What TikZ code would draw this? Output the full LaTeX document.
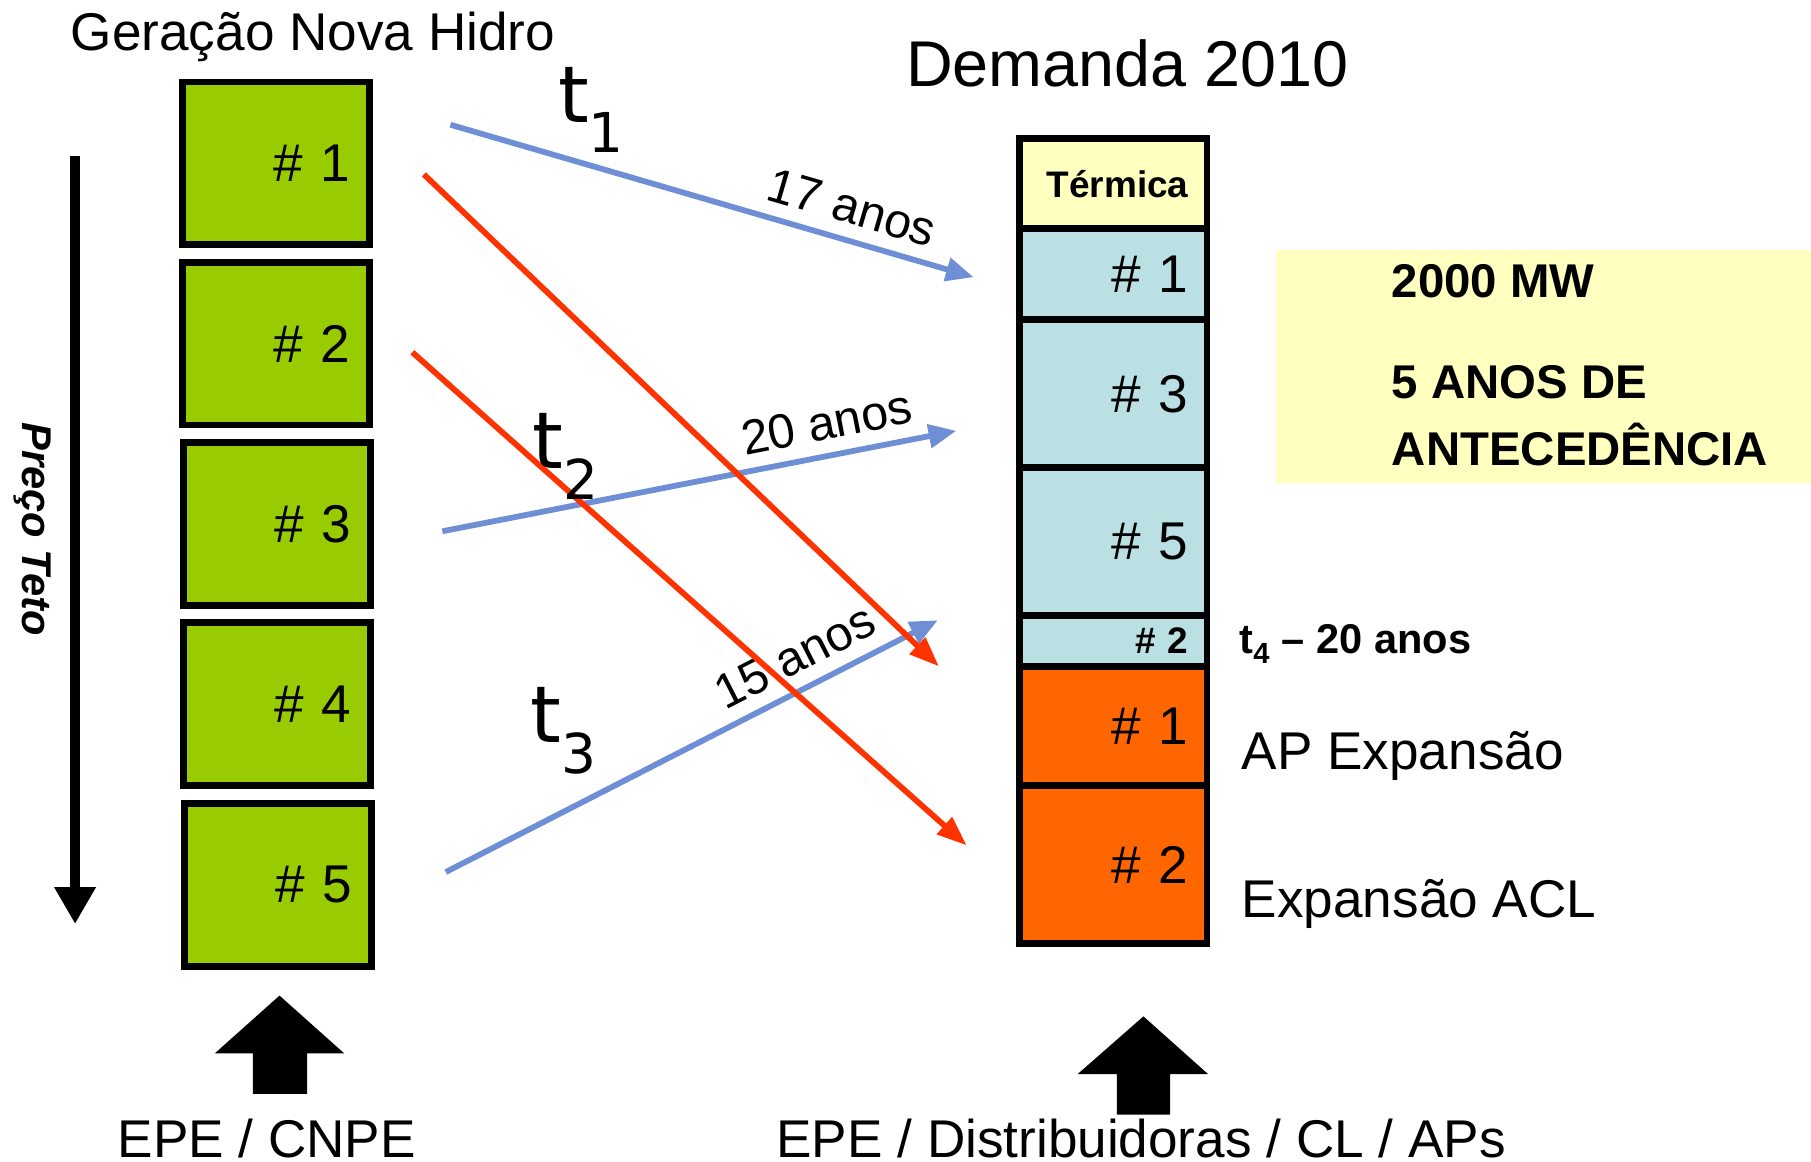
\documentclass[tikz,border=0pt]{standalone}
\usepackage{fontspec}
\setmainfont{Liberation Sans}
\newfontfamily\tfam{DejaVu Sans}
\usetikzlibrary{arrows.meta, positioning}

\definecolor{verdehidro}{HTML}{99CC00}
\definecolor{amarelo}{HTML}{FFFFC0}
\definecolor{azulclaro}{HTML}{BBE0E3}
\definecolor{laranja}{HTML}{FF6600}
\definecolor{azulseta}{HTML}{6E8FD5}
\definecolor{vermseta}{HTML}{FF3300}

\newcommand{\tam}[1]{\fontsize{#1}{#1}\selectfont}

\begin{document}
\begin{tikzpicture}[x=1pt, y=-1pt,
	hidro/.style={draw, line width=6pt, fill=verdehidro, minimum width=162pt, minimum height=141pt, text width=128pt, inner xsep=17pt, align=right, font=\tam{46}},
	demanda/.style={draw, line width=6pt, minimum width=162pt, text width=130pt, inner xsep=16pt, inner ysep=0pt, align=right, font=\tam{46}},
	azul/.style={->, azulseta, line width=5pt, >={Triangle[length=24pt, width=20pt]}},
	verm/.style={->, vermseta, line width=5pt, >={Triangle[length=26pt, width=19pt]}},
	anos/.style={sloped, above=8pt, font=\tam{42}, text=black},
	tempo/.style={font=\tfam\tam{68}},
	texto/.style={anchor=base west, inner sep=0pt, font=\tam{46}}]
	\useasboundingbox (0,0) rectangle (1568,1006);

	% coluna da esquerda
	\node[anchor=base, font=\tam{46}] (titgen) at (271,44) {Geração Nova Hidro};
	\node[hidro] (g1) at (239,141.5) {\# 1};
	\node[hidro] (g2) at (239,297.5) {\# 2};
	\node[hidro] (g3) at (240,454) {\# 3};
	\node[hidro] (g4) at (240,609.5) {\# 4};
	\node[hidro] (g5) at (241,766) {\# 5};

	\coordinate (pc) at (65,135);
	\coordinate (pb) at (65,800);
	\draw[line width=8pt, -{Triangle[length=32pt, width=34pt]}] (pc) -- (pb);
	\node[rotate=-90, font=\bfseries\itshape\tam{36}] (teto) at (28,458) {Preço Teto};

	\fill (242,862) -- (298,912) -- (266,912) -- (266,947) -- (219,947) -- (219,912) -- (186,912) -- cycle;
	\node[anchor=base, font=\tam{46}] (epe1) at (231,1002) {EPE / CNPE};

	% coluna da direita
	\node[anchor=base, font=\tam{56}] (titdem) at (976,75) {Demanda 2010};
	\node[demanda, fill=amarelo, minimum height=78pt, font=\bfseries\tam{32}] (term) at (964,159) {Térmica};
	\node[demanda, fill=azulclaro, minimum height=79pt] (d1) at (964,237.5) {\# 1};
	\node[demanda, fill=azulclaro, minimum height=128pt] (d3) at (964,341) {\# 3};
	\node[demanda, fill=azulclaro, minimum height=128pt] (d5) at (964,469) {\# 5};
	\node[demanda, fill=azulclaro, minimum height=44pt, font=\bfseries\tam{32}] (d2) at (964,555) {\# 2};
	\node[demanda, fill=laranja, minimum height=103pt] (a1) at (964,628.5) {\# 1};
	\node[demanda, fill=laranja, minimum height=137pt] (a2) at (964,748.5) {\# 2};

	\fill (990,880) -- (1046,930) -- (1013,930) -- (1013,965) -- (967,965) -- (967,930) -- (933,930) -- cycle;
	\node[anchor=base, font=\tam{46}] (epe2) at (988,1002) {EPE / Distribuidoras / CL / APs};

	\node[texto, font=\bfseries\tam{36}] (t4) at (1073,566) {t\textsubscript{4} -- 20 anos};
	\node[texto] (apexp) at (1075,666) {AP Expansão};
	\node[texto] (acl) at (1075,794) {Expansão ACL};

	\node[fill=amarelo, anchor=north west, inner sep=0pt, minimum width=463pt, minimum height=202pt] (nota) at (1105,216) {};
	\node[texto, font=\bfseries\tam{41}] (mw) at (1205,258) {2000 MW};
	\node[texto, font=\bfseries\tam{41}] (cinco) at (1205,345) {5 ANOS DE};
	\node[texto, font=\bfseries\tam{41}] (antec) at (1205,403) {ANTECEDÊNCIA};

	% setas
	\coordinate (b1a) at (390,108);
	\coordinate (b1b) at (843,240);
	\coordinate (b2a) at (383,460);
	\coordinate (b2b) at (828,373);
	\coordinate (b3a) at (386,755);
	\coordinate (b3b) at (812,537);
	\coordinate (r1a) at (367,151);
	\coordinate (r1b) at (813,577);
	\coordinate (r2a) at (357,305);
	\coordinate (r2b) at (837,732);

	\draw[azul] (b1a) -- node[anos, pos=.75] {17 anos} (b1b);
	\draw[azul] (b2a) -- node[anos, pos=.76] {20 anos} (b2b);
	\draw[azul] (b3a) -- node[anos, pos=.74] {15 anos} (b3b);
	\draw[verm] (r1a) -- (r1b);
	\draw[verm] (r2a) -- (r2b);

	\node[tempo] (t1) at (512,95) {t\textsubscript{1}};
	\node[tempo] (t2) at (490,395) {t\textsubscript{2}};
	\node[tempo] (t3) at (488,633) {t\textsubscript{3}};
\end{tikzpicture}
\end{document}
